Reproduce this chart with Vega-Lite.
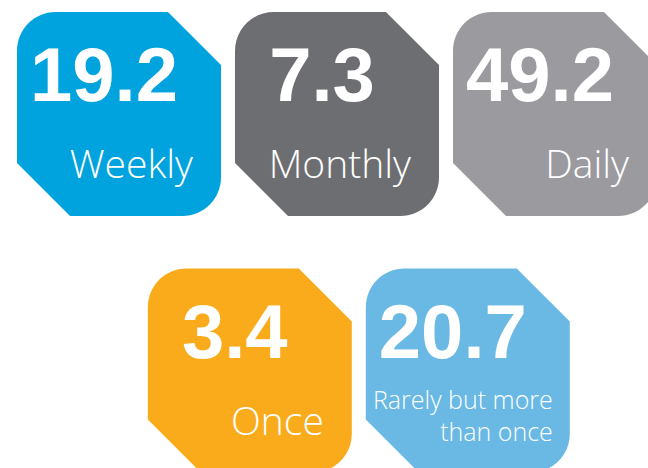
{
  "$schema": "https://vega.github.io/schema/vega-lite/v6.json",
  "width": 648,
  "height": 468,
  "padding": 0,
  "autosize": {"type": "none"},
  "background": "#ffffff",
  "config": {"view": {"stroke": null}},
  "data": {
    "values": [
      {"label": "Weekly", "value": 19.2, "col": 1, "row": 1},
      {"label": "Monthly", "value": 7.3, "col": 2, "row": 1},
      {"label": "Daily", "value": 49.2, "col": 3, "row": 1},
      {"label": "Once", "value": 3.4, "col": 1.6, "row": 2},
      {"label": "Rarely but more\nthan once", "value": 20.7, "col": 2.6, "row": 2}
    ]
  },
  "encoding": {
    "x": {"field": "col", "type": "quantitative", "axis": null, "scale": {"domain": [0.4541, 3.4266], "nice": false, "zero": false}},
    "y": {"field": "row", "type": "quantitative", "axis": null, "scale": {"domain": [0.5556, 2.3801], "nice": false, "zero": false, "reverse": true}}
  },
  "layer": [
    {
      "mark": {
        "type": "point",
        "shape": "M -1 -0.62 C -1 -0.83 -0.83 -1 -0.62 -1 L 0.48 -1 L 1 -0.48 L 1 0.62 C 1 0.83 0.83 1 0.62 1 L -0.48 1 L -1 0.48 Z",
        "size": 41616,
        "filled": true,
        "opacity": 1,
        "strokeWidth": 0
      },
      "encoding": {
        "color": {
          "field": "label",
          "type": "nominal",
          "legend": null,
          "scale": {
            "domain": ["Weekly", "Monthly", "Daily", "Once", "Rarely but more\nthan once"],
            "range": ["#00a3de", "#6d6e72", "#9b9a9f", "#f9ab1b", "#6ab9e5"]
          }
        }
      }
    },
    {
      "mark": {"type": "text", "font": "Liberation Sans", "fontWeight": "bold", "fontSize": 76, "color": "#ffffff", "align": "center", "baseline": "alphabetic", "dx": -15, "dy": -13},
      "encoding": {"text": {"field": "value", "type": "quantitative", "format": ".1f"}}
    },
    {
      "transform": [{"filter": "indexof(datum.label, '\\n') < 0"}],
      "mark": {"type": "text", "font": "Open Sans", "fontWeight": 300, "fontSize": 39, "color": "#ffffff", "align": "right", "baseline": "alphabetic", "dx": 74, "dy": 64},
      "encoding": {"text": {"field": "label", "type": "nominal"}}
    },
    {
      "transform": [{"filter": "indexof(datum.label, '\\n') >= 0"}],
      "mark": {"type": "text", "font": "Open Sans", "fontWeight": 300, "fontSize": 25, "lineHeight": 32, "lineBreak": "\n", "color": "#ffffff", "align": "right", "baseline": "alphabetic", "dx": 85, "dy": 38},
      "encoding": {"text": {"field": "label", "type": "nominal"}}
    }
  ]
}
